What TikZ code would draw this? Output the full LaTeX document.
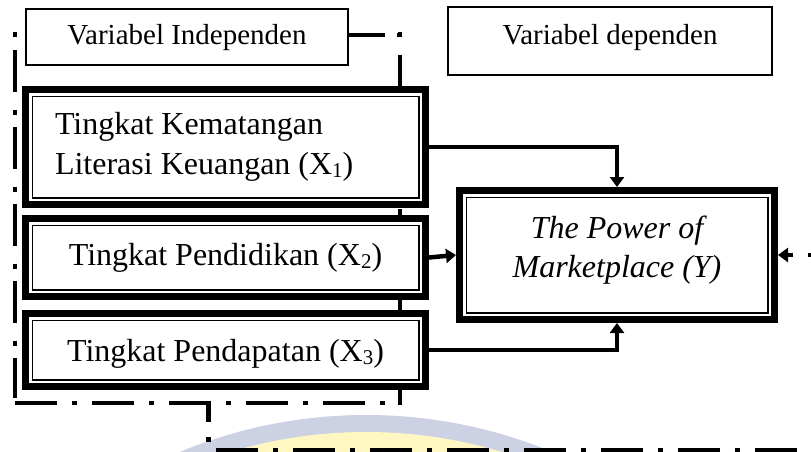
\documentclass[tikz,border=0pt]{standalone}
\usepackage{fontspec}
\setmainfont{Liberation Serif}
\usetikzlibrary{arrows.meta,backgrounds}
\definecolor{wmblue}{RGB}{204,209,227}
\definecolor{wmyellow}{RGB}{255,247,194}
\newcommand\mysub[1]{\raisebox{-3pt}{\fontsize{21}{21}\selectfont #1}}
\begin{document}
\begin{tikzpicture}[x=1pt,y=-1pt,
  hdr/.style={draw, line width=1.5pt, fill=white, font=\fontsize{29}{34}\selectfont, inner sep=0pt, text height=20pt},
  vbox/.style={draw, line width=1.5pt, fill=white, font=\fontsize{32}{39.5}\selectfont, inner sep=0pt, outer sep=10.25pt},
  thickframe/.style={line width=7pt},
  dd/.style={line width=4.5pt, dash pattern=on 42pt off 15pt on 5pt off 15pt},
  conn/.style={line width=4.5pt, -{Triangle[length=10pt,width=14pt]}},
]
\useasboundingbox (0,0) rectangle (811,452);

% header boxes
\node[hdr, minimum width=322pt, minimum height=56pt, text depth=4pt] (hi) at (187,37) {Variabel Independen};
\node[hdr, minimum width=324pt, minimum height=68pt, text depth=12pt] (hd) at (610,41) {Variabel dependen};

% variable boxes
\node[vbox, minimum width=386.5pt, minimum height=101.5pt, text width=341pt, align=flush left] (x1) at (225.5,147) {Tingkat Kematangan\\Literasi Keuangan (X\mysub{1})};
\node[vbox, minimum width=386.5pt, minimum height=64.5pt] (x2) at (225.5,257.5) {Tingkat Pendidikan (X\mysub{2})};
\node[vbox, minimum width=386.5pt, minimum height=59.5pt, text depth=0pt] (x3) at (225.5,350) {Tingkat Pendapatan (X\mysub{3})};
\node[vbox, minimum width=301.5pt, minimum height=115.5pt, align=center, text depth=17pt, font=\itshape\fontsize{32}{39}\selectfont] (y) at (617,255) {The Power of\\Marketplace (Y)};

% thick outer frames
\foreach \n in {x1,x2,x3,y}{
  \draw[thickframe] ([shift={(3.5pt,-3.5pt)}]\n.north west) rectangle ([shift={(-3.5pt,3.5pt)}]\n.south east);
}

\begin{scope}[on background layer]
  % watermark
  \fill[wmblue] (366,901) circle[radius=486pt];
  \fill[wmyellow] (366,901) circle[radius=469pt];
  % dash-dot group outline
  \draw[dd, dash pattern=on 5pt off 12.5pt on 42pt off 17.5pt] (402.25,35) -- (13,35);
  \draw[dd, dash pattern=on 5pt off 12.5pt on 42pt off 17.5pt] (15,32.5) -- (15,398);
  \draw[dd, dash pattern=on 5pt off 17.5pt on 42pt off 12.5pt] (400,32.5) -- (400,405);
  \draw[dd] (15,403) -- (402,403);
  \draw[dd, dash phase=21pt] (208.5,401) -- (208.5,450) -- (835,450);
  % white fills behind frames
  \foreach \n in {x1,x2,x3,y}{
    \fill[white] (\n.north west) rectangle (\n.south east);
  }
\end{scope}

% connectors
\draw[conn] (x1.east) -| (y.north);
\draw[conn] (x2.east) -- (y.west);
\draw[conn] (x3.east) -| (y.south);
\coordinate (rin) at (835,255);
\draw[conn, dash pattern=on 42pt off 15pt on 5pt off 15pt, dash phase=15pt] (rin) -- (y.east);
\end{tikzpicture}
\end{document}
